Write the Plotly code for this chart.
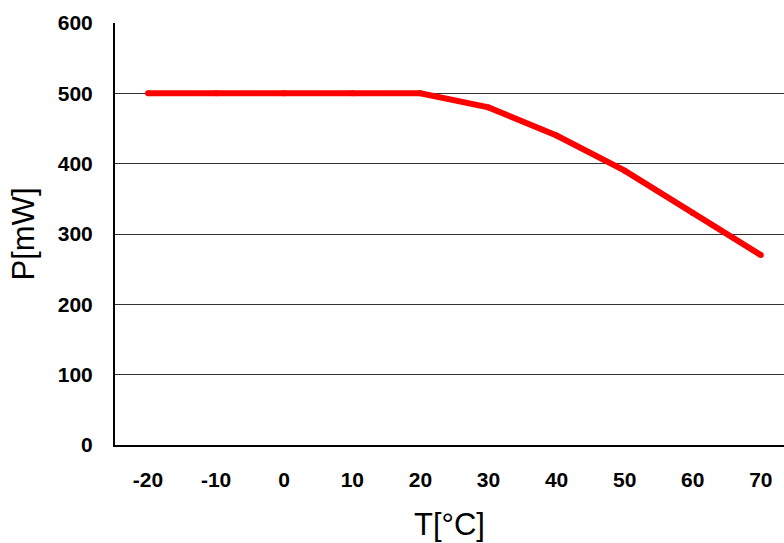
import plotly.graph_objects as go

temps = [-20, -10, 0, 10, 20, 30, 40, 50, 60, 70]
power = [500, 500, 500, 500, 500, 480, 440, 390, 330, 270]
xticks = [-20, -10, 0, 10, 20, 30, 40, 50, 60, 70]
yticks = [0, 100, 200, 300, 400, 500, 600]

fig = go.Figure()
fig.add_trace(go.Scatter(x=temps, y=power, mode="lines+markers",
                         line=dict(color="#ff0000", width=6),
                         marker=dict(color="#ff0000", size=6),
                         showlegend=False))

fig.update_layout(
    width=784, height=543,
    margin=dict(l=115, r=0, t=23, b=98),
    paper_bgcolor="white", plot_bgcolor="white",
    font=dict(family="Liberation Sans, Arial, sans-serif", color="black"),
)
fig.update_xaxes(
    range=[-24.85, 73.4], tickvals=xticks, ticktext=[str(v) for v in xticks],
    showgrid=False, zeroline=False,
    showline=True, linecolor="black", linewidth=2,
    tickfont=dict(size=21, family="Liberation Sans, Arial, sans-serif", weight="bold"),
    ticklabelstandoff=15,
    title=dict(text="T[°C]", font=dict(size=31), standoff=23),
)
fig.update_yaxes(
    range=[0, 600], tickvals=yticks,
    showgrid=True, gridcolor="#333333", gridwidth=1,
    zeroline=False,
    showline=True, linecolor="black", linewidth=2,
    tickfont=dict(size=21, family="Liberation Sans, Arial, sans-serif", weight="bold"),
    ticklabelstandoff=16,
    title=dict(text="P[mW]", font=dict(size=31), standoff=14),
)

fig.write_html("out.html")
